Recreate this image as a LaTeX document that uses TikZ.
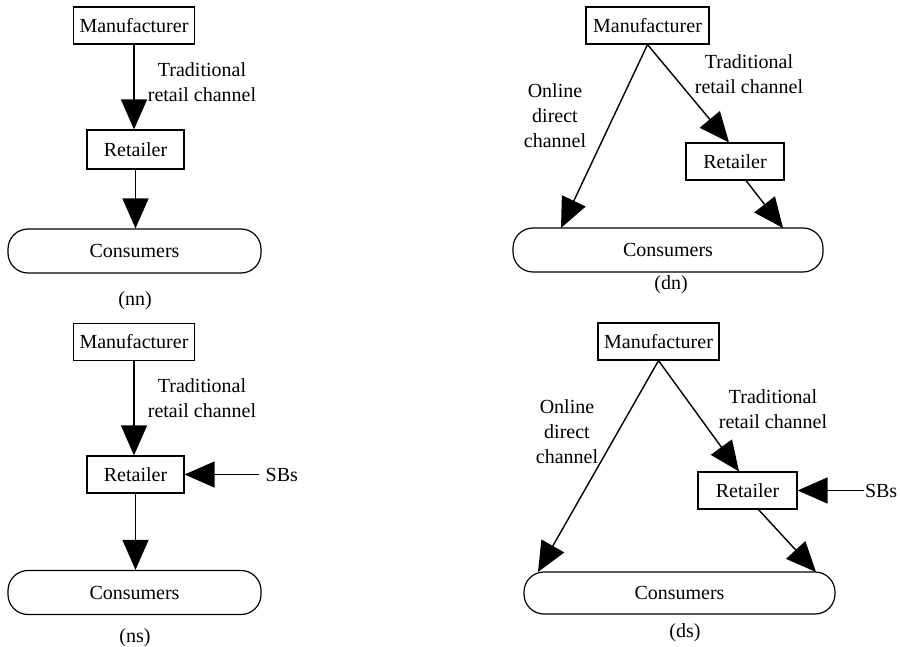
\documentclass[tikz,border=0pt]{standalone}
\usepackage{fontspec}
\setmainfont{Liberation Serif}
\usetikzlibrary{arrows.meta, positioning}

\begin{document}
\begin{tikzpicture}[x=0.5pt, y=-0.5pt,
    every node/.style={font=\fontsize{10}{12.5}\selectfont},
    firm/.style={draw, line width=0.6pt, inner sep=1pt, minimum height=18.5pt},
    market/.style={draw, line width=0.6pt, rounded corners=10pt, minimum height=22pt},
    flow/.style={-{Triangle[length=15pt, width=13pt]}, line width=0.7pt},
    note/.style={align=center}]
    \useasboundingbox (0,0) rectangle (900,647);

    % (nn) single channel
    \node[firm, minimum width=60.5pt] (m1) at (134,25.5) {Manufacturer};
    \node[firm, minimum width=48.5pt, minimum height=19.5pt] (r1) at (135.5,149.5) {Retailer};
    \node[market, minimum width=126.5pt] (c1) at (134.5,251) {Consumers};
    \node (cap1) at (135,301) {(nn)};
    \node[note] (t1) at (202,82.5) {Traditional\\retail channel};
    \draw[flow] (m1.south) -- (m1.south |- r1.north);
    \draw[flow] (r1.south) -- (r1.south |- c1.north);

    % (dn) dual channel
    \node[firm, minimum width=61.5pt] (m2) at (647.5,25.5) {Manufacturer};
    \node[firm, minimum width=49pt] (r2) at (735,161.5) {Retailer};
    \node[market, minimum width=155pt] (c2) at (668,250) {Consumers};
    \node (cap2) at (671,285) {(dn)};
    \node[note] (o2) at (555,116) {Online\\direct\\channel};
    \node[note] (t2) at (749,74.5) {Traditional\\retail channel};
    \coordinate (c2l) at (561,228);
    \coordinate (c2r) at (783,228);
    \draw[flow] (m2.south) -- (c2l);
    \draw[flow] (m2.south) -- ([xshift=-3pt]r2.north);
    \draw[flow] ([xshift=5.5pt]r2.south) -- (c2r);

    % (ns) single channel with SBs
    \node[firm, minimum width=60.5pt] (m3) at (134,342) {Manufacturer};
    \node[firm, minimum width=48.5pt] (r3) at (135.5,474.5) {Retailer};
    \node[market, minimum width=126.5pt] (c3) at (134.5,592.5) {Consumers};
    \node (cap3) at (135,638) {(ns)};
    \node[note] (t3) at (202,398.5) {Traditional\\retail channel};
    \node[right=37pt of r3] (s3) {SBs};
    \draw[flow] (m3.south) -- (m3.south |- r3.north);
    \draw[flow] (r3.south) -- (r3.south |- c3.north);
    \draw[flow] (s3.west) -- (r3.east);

    % (ds) dual channel with SBs
    \node[firm, minimum width=60.5pt] (m4) at (658.5,341.5) {Manufacturer};
    \node[firm, minimum width=49.5pt] (r4) at (747.5,490.5) {Retailer};
    \node[market, minimum width=155.5pt, minimum height=21pt] (c4) at (679.5,593) {Consumers};
    \node (cap4) at (685,633) {(ds)};
    \node[note] (o4) at (567,431.5) {Online\\direct\\channel};
    \node[note] (t4) at (773,409.5) {Traditional\\retail channel};
    \node[right=33pt of r4, inner xsep=0.5pt] (s4) {SBs};
    \coordinate (c4l) at (538,572);
    \coordinate (c4r) at (816,572);
    \draw[flow] (m4.south) -- (c4l);
    \draw[flow] (m4.south) -- ([xshift=-4.25pt]r4.north);
    \draw[flow] ([xshift=5.5pt]r4.south) -- (c4r);
    \draw[flow] (s4.west) -- (r4.east);
\end{tikzpicture}
\end{document}
